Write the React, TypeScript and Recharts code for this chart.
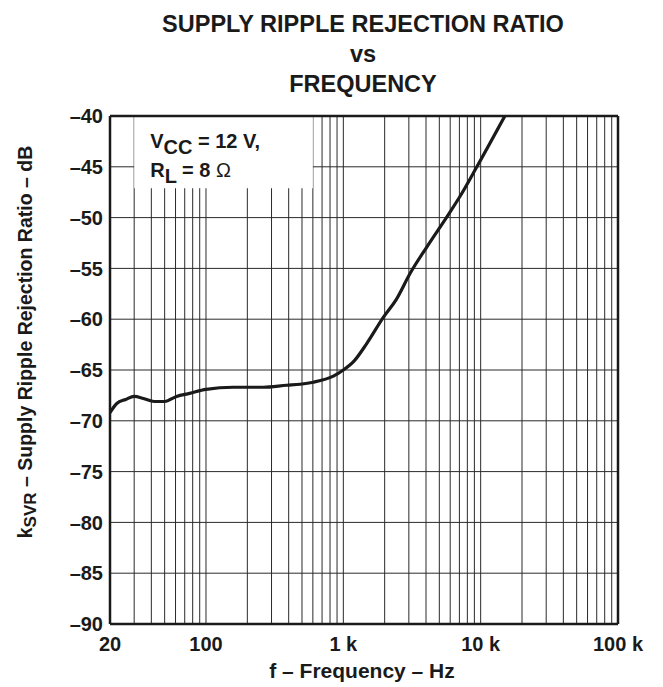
import React from 'react'
import {
  LineChart,
  Line,
  XAxis,
  YAxis,
  CartesianGrid,
  ReferenceArea,
  ReferenceLine
} from 'recharts'

// values (Hz, dB)
const freqHz = [
  20, 22.4, 26, 30, 35, 42, 50, 61, 76, 100, 158, 262, 387, 485, 605, 846,
  1000, 1200, 1480, 1960, 2420, 3060, 4050, 5820, 7080, 9380, 15000
]
const ksvrDb = [
  -69.2, -68.3, -67.9, -67.6, -67.8, -68.1, -68.1, -67.6, -67.3, -66.9, -66.7,
  -66.7, -66.5, -66.4, -66.2, -65.6, -65.0, -64.1, -62.4, -59.8, -58.1, -55.5,
  -52.9, -49.7, -47.9, -45.0, -40.0
]

const xTicks = [20, 100, 1000, 10000, 100000]
const xTickLabels = ['20', '100', '1 k', '10 k', '100 k']
const yTicks = [-90, -85, -80, -75, -70, -65, -60, -55, -50, -45, -40]

// log grid: 20..90, then 1..9 of every decade up to 100 k
const decades = [10, 100, 1000, 10000]
const steps = [1, 2, 3, 4, 5, 6, 7, 8, 9]
const gridFreqs = [
  ...decades.flatMap((d) => steps.map((s) => s * d)).filter((f) => f >= 20),
  100000
]

const data = freqHz.map((f, i) => ({ f, db: ksvrDb[i] }))

const FONT = '"Liberation Sans", Arial, Helvetica, sans-serif'
const INK = '#1a1a1a'

const fmtY = (v: number) => `\u2013${Math.abs(v)}`
const fmtX = (v: number) => xTickLabels[xTicks.indexOf(v)] ?? String(v)

const NoteLabel = (props: any) => {
  const vb = props.viewBox || {}
  const x = vb.x + 16
  const y = vb.y
  return (
    <text fontFamily={FONT} fontWeight="bold" fontSize={20} fill={INK}>
      <tspan x={x} y={y + 32}>V</tspan>
      <tspan dy={6}>CC</tspan>
      <tspan dy={-6}> = 12 V,</tspan>
      <tspan x={x} y={y + 61}>R</tspan>
      <tspan dy={6}>L</tspan>
      <tspan dy={-6}> = 8 </tspan>
      <tspan fontWeight="normal">Ω</tspan>
    </text>
  )
}

export default function App() {
  return (
    <div
      style={{
        position: 'absolute',
        left: 0,
        top: 0,
        width: 663,
        height: 687,
        background: '#fff',
        fontFamily: FONT,
        color: INK
      }}
    >
      <div
        style={{
          position: 'absolute',
          left: 0,
          width: 726,
          top: 9,
          textAlign: 'center',
          fontWeight: 'bold',
          fontSize: 23.5,
          lineHeight: '30px'
        }}
      >
        SUPPLY RIPPLE REJECTION RATIO
        <br />
        vs
        <br />
        FREQUENCY
      </div>

      <svg
        width={60}
        height={687}
        style={{ position: 'absolute', left: 0, top: 0 }}
      >
        <text
          transform="translate(32, 342) rotate(-90)"
          textAnchor="middle"
          fontFamily={FONT}
          fontWeight="bold"
          fontSize={19.5}
          fill={INK}
        >
          k<tspan fontSize={17} dy={4}>SVR</tspan>
          <tspan dy={-4}> – Supply Ripple Rejection Ratio – dB</tspan>
        </text>
      </svg>

      <div
        style={{
          position: 'absolute',
          left: 0,
          width: 724,
          top: 659,
          textAlign: 'center',
          fontWeight: 'bold',
          fontSize: 21
        }}
      >
        f – Frequency – Hz
      </div>

      <div style={{ position: 'absolute', left: 0, top: 0 }}>
        <LineChart
          width={663}
          height={687}
          data={data}
          margin={{ top: 116, right: 45, left: 50, bottom: 33 }}
        >
          <CartesianGrid
            stroke="#2a2a2a"
            strokeWidth={1}
            verticalValues={gridFreqs}
            horizontalValues={yTicks}
          />
          <XAxis
            dataKey="f"
            type="number"
            scale="log"
            domain={[20, 100000]}
            ticks={xTicks}
            tickFormatter={fmtX}
            interval={0}
            allowDataOverflow
            height={30}
            axisLine={false}
            tickLine={false}
            tickSize={0}
            tickMargin={13}
            tick={{ fill: INK, fontSize: 20, fontWeight: 'bold', fontFamily: FONT }}
          />
          <YAxis
            type="number"
            domain={[-90, -40]}
            ticks={yTicks}
            tickFormatter={fmtY}
            interval={0}
            allowDataOverflow
            width={60}
            axisLine={false}
            tickLine={false}
            tickSize={0}
            tickMargin={7}
            tick={{ fill: INK, fontSize: 20, fontWeight: 'bold', fontFamily: FONT }}
          />
          <ReferenceArea
            x1={30}
            x2={600}
            y1={-47.1}
            y2={-40}
            fill="#fff"
            fillOpacity={1}
            stroke="none"
            label={NoteLabel}
          />
          <Line
            type="monotone"
            dataKey="db"
            stroke={INK}
            strokeWidth={3.2}
            dot={false}
            isAnimationActive={false}
          />
          <ReferenceLine x={20} stroke={INK} strokeWidth={2.5} />
          <ReferenceLine x={100000} stroke={INK} strokeWidth={2.5} />
          <ReferenceLine y={-40} stroke={INK} strokeWidth={2.5} />
          <ReferenceLine y={-90} stroke={INK} strokeWidth={2.5} />
        </LineChart>
      </div>
    </div>
  )
}
